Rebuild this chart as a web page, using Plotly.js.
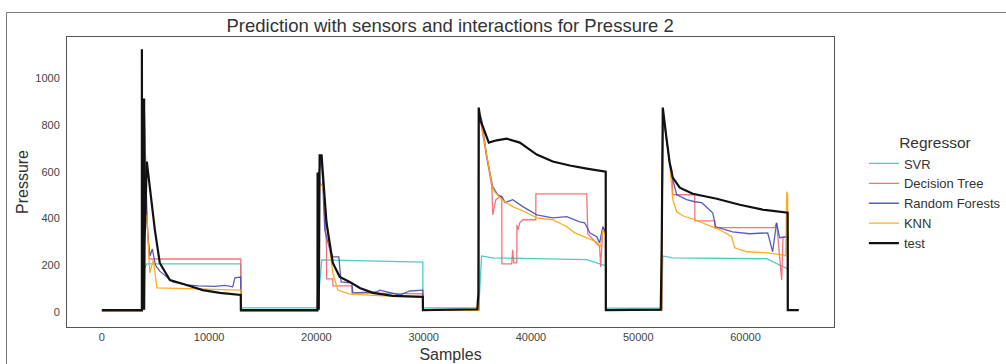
<!DOCTYPE html>
<html>
<head>
<meta charset="utf-8">
<script src="https://cdn.plot.ly/plotly-3.0.1.min.js"></script>
<style>html,body{margin:0;padding:0;background:#fff;}#chart{width:1006px;height:364px;}</style>
</head>
<body>
<div id="chart"></div>
<script>
// ---- data ----
const seriesNames = ["SVR", "Decision Tree", "Random Forests", "KNN", "test"];

const svrX = [0, 3730, 3900, 4000, 4190, 12950, 12960, 20100, 20300, 20500, 29920, 29930, 35130, 35300, 35400, 36440, 41000, 45200, 46700, 46970, 46980, 52190, 52290, 53200, 61970, 63840, 63930, 63940, 64960];
const svrY = [5, 5, 40, 190, 206, 206, 18, 18, 120, 223, 214, 18, 18, 150, 240, 232, 229, 224, 202, 200, 17, 17, 240, 232, 228, 189, 185, 8, 8];

const dtX = [0, 3730, 3740, 3940, 4190, 4400, 4410, 12950, 12960, 20100, 20220, 20480, 20940, 20950, 21530, 21540, 23300, 23310, 29920, 29930, 35130, 35140, 35880, 36350, 36440, 36720, 37090, 37280, 37290, 38210, 38300, 38400, 38680, 38690, 38800, 38960, 39240, 40450, 40460, 45200, 45300, 46000, 46400, 46500, 46700, 46970, 46980, 52190, 52290, 52930, 53130, 53220, 55270, 55280, 57130, 57140, 62720, 62900, 63370, 63500, 63930, 63940, 64960];
const dtY = [5, 5, 700, 900, 420, 250, 227, 227, 5, 5, 590, 665, 280, 142, 142, 112, 112, 82, 78, 8, 8, 860, 665, 536, 416, 480, 494, 494, 206, 206, 266, 210, 210, 373, 352, 382, 395, 395, 506, 506, 335, 300, 279, 193, 365, 340, 8, 8, 860, 640, 609, 502, 502, 390, 390, 361, 361, 382, 137, 322, 322, 8, 8];

const rfX = [0, 3730, 3740, 3940, 4190, 4290, 4500, 4700, 5000, 5400, 6620, 7900, 9000, 10500, 11500, 12200, 12400, 12950, 12960, 20100, 20220, 20480, 20780, 21250, 21530, 22090, 22300, 23300, 23400, 25630, 25900, 27770, 28700, 29920, 29930, 35130, 35140, 35400, 35880, 36440, 36910, 37280, 37600, 38300, 39240, 40540, 42030, 43340, 44550, 45010, 45480, 46130, 46400, 46700, 46970, 46980, 52190, 52290, 52930, 53220, 53590, 54520, 55270, 55920, 56940, 57220, 58800, 60390, 62070, 62530, 62900, 63180, 63840, 63930, 63940, 64960];
const rfY = [5, 5, 700, 900, 420, 322, 240, 270, 200, 175, 129, 116, 112, 110, 114, 108, 146, 150, 5, 5, 590, 665, 352, 266, 236, 236, 129, 124, 82, 86, 94, 73, 90, 94, 8, 8, 860, 824, 665, 536, 502, 494, 468, 481, 451, 416, 403, 408, 386, 382, 339, 322, 296, 365, 339, 8, 8, 860, 640, 566, 502, 481, 472, 468, 425, 365, 343, 335, 339, 258, 382, 318, 322, 322, 8, 8];

const knnX = [0, 3730, 3740, 3940, 4190, 4470, 4800, 5130, 8000, 12950, 12960, 20100, 20220, 20600, 21250, 21530, 22000, 23110, 26190, 29920, 29930, 35130, 35140, 35500, 35980, 36440, 37280, 38300, 39610, 40540, 42030, 43340, 44080, 45200, 46130, 46500, 46700, 46970, 46980, 52190, 52290, 52930, 53220, 53590, 54150, 55270, 56380, 57600, 58710, 58990, 60110, 62070, 63370, 63750, 63840, 63930, 63940, 64960];
const knnY = [5, 5, 300, 380, 416, 167, 223, 103, 100, 94, 5, 5, 560, 536, 266, 167, 94, 77, 69, 65, 8, 8, 867, 768, 652, 524, 481, 451, 425, 403, 395, 365, 339, 318, 300, 279, 352, 330, 8, 8, 860, 639, 481, 429, 412, 395, 373, 352, 322, 275, 258, 253, 245, 240, 515, 500, 8, 8];

const testX = [0, 3730, 3731, 3760, 3940, 3941, 3980, 4190, 4500, 4940, 5400, 6340, 7900, 9400, 11000, 12950, 12960, 20100, 20110, 20220, 20300, 20480, 20940, 21530, 22180, 23110, 24050, 25260, 27120, 29920, 29930, 35000, 35100, 35130, 35300, 36070, 36800, 37740, 38960, 40540, 42030, 43620, 45200, 46970, 46980, 52100, 52190, 52290, 52650, 52930, 53220, 53870, 55080, 57320, 59460, 61600, 63930, 63940, 64960];
const testY = [8, 8, 1125, 10, 914, 10, 300, 644, 520, 352, 210, 137, 116, 94, 82, 73, 8, 8, 597, 10, 671, 671, 382, 210, 150, 129, 103, 82, 69, 65, 8, 12, 80, 875, 820, 725, 735, 742, 725, 674, 644, 627, 614, 601, 8, 10, 290, 875, 738, 639, 575, 532, 506, 485, 459, 438, 425, 8, 8];

const xTickVals = [0, 10000, 20000, 30000, 40000, 50000, 60000];
const yTickVals = [0, 200, 400, 600, 800, 1000];

const colors = ["rgba(64,201,196,0.95)", "rgba(245,90,100,0.85)", "rgba(70,75,180,0.9)", "rgba(255,168,20,0.95)", "#111111"];
const widths = [1.3, 1.3, 1.3, 1.3, 2.2];

const xs = [svrX, dtX, rfX, knnX, testX];
const ys = [svrY, dtY, rfY, knnY, testY];

const traces = seriesNames.map((n, i) => ({
  type: "scatter", mode: "lines", name: n,
  x: xs[i], y: ys[i],
  line: {color: colors[i], width: widths[i]}
}));

const axisCommon = {
  showgrid: false, zeroline: false, showline: true, mirror: true,
  linecolor: "#555", linewidth: 1, ticks: "",
  tickfont: {family: "Liberation Sans, Arial, sans-serif", size: 11, color: "#444"}
};

const layout = {
  width: 1006, height: 364,
  margin: {l: 67, r: 172, t: 37, b: 37, pad: 0, autoexpand: false},
  paper_bgcolor: "#fff", plot_bgcolor: "#fff",
  font: {family: "Liberation Sans, Arial, sans-serif", color: "#333"},
  title: {text: "Prediction with sensors and interactions for Pressure 2",
          font: {size: 18.5, color: "#333"}, x: 0.4475, xanchor: "center", y: 0.93, yanchor: "middle"},
  xaxis: Object.assign({}, axisCommon, {
    range: [-3250, 68250], tickvals: xTickVals, ticktext: xTickVals.map(String),
    title: {text: "Samples", font: {size: 16, color: "#333"}, standoff: 6}
  }),
  yaxis: Object.assign({}, axisCommon, {
    range: [-64, 1177], tickvals: yTickVals, ticktext: yTickVals.map(String),
    ticklabelstandoff: 4,
    title: {text: "Pressure", font: {size: 16, color: "#333"}, standoff: 2}
  }),
  showlegend: true,
  legend: {
    x: 1.039, xanchor: "left", y: 0.685, yanchor: "top",
    font: {size: 13, color: "#333"},
    title: {text: "Regressor", font: {size: 15.5, color: "#333"}, side: "top center"},
    tracegroupgap: 0, bgcolor: "rgba(0,0,0,0)"
  },
  shapes: [{
    type: "rect", xref: "paper", yref: "paper",
    x0: (6.5 - 67) / 767, x1: (1012 - 67) / 767,
    y0: (327 - 372) / 290, y1: (327 - 12.5) / 290,
    line: {color: "#777", width: 1}, fillcolor: "rgba(0,0,0,0)"
  }]
};

Plotly.newPlot("chart", traces, layout, {displayModeBar: false, staticPlot: true});
</script>
</body>
</html>
